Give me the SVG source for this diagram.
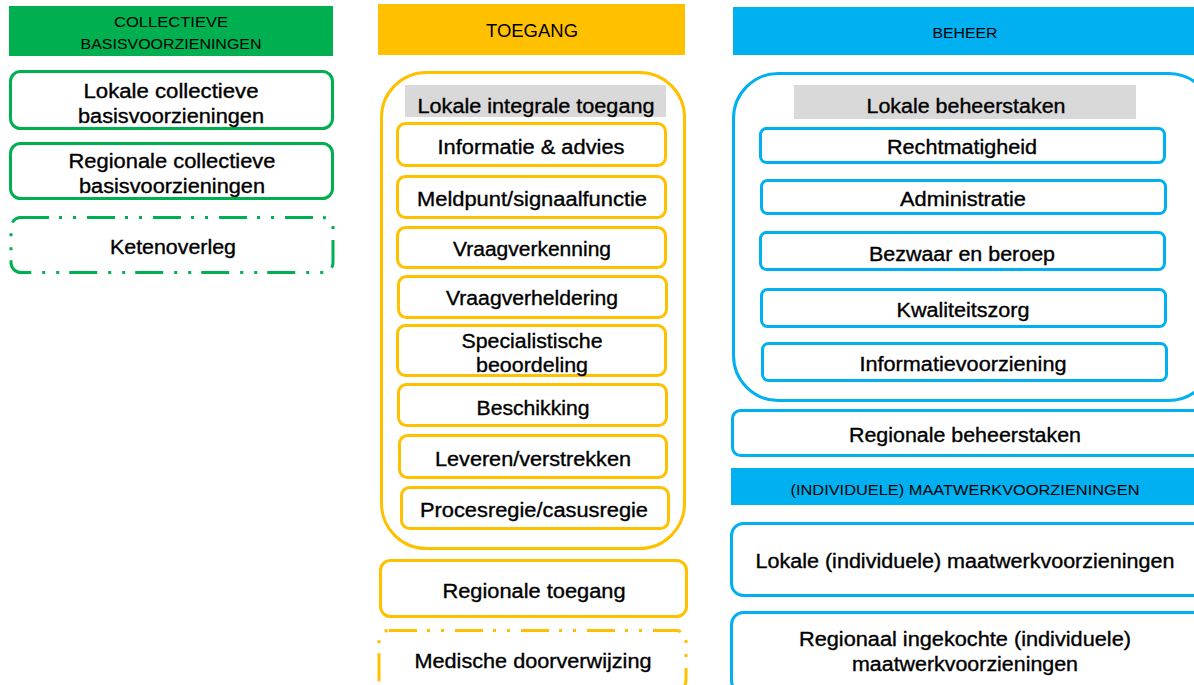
<svg xmlns="http://www.w3.org/2000/svg" width="1194" height="685" viewBox="0 0 1194 685">
<style>
text{font-family:"Liberation Sans",Arial,sans-serif;fill:#000;text-anchor:middle}
.t{font-size:20px;stroke:#000;stroke-width:0.35}
.h{font-size:15px}
.g{fill:#fff;stroke:#00B050;stroke-width:3}
.y{fill:#fff;stroke:#FFC000;stroke-width:3}
.c{fill:#fff;stroke:#00B0F0;stroke-width:3}
.d{stroke-dasharray:28 10 3 11 3 11}
</style>
<rect width="1194" height="685" fill="#fff"/>
<g id="col-collectief">
<g id="hdr-collectief"><rect x="9" y="6" width="324" height="50" fill="#00B050"/>
<text class="h" x="171" y="27" textLength="114" lengthAdjust="spacingAndGlyphs">COLLECTIEVE</text>
<text class="h" x="171" y="49" textLength="181" lengthAdjust="spacingAndGlyphs">BASISVOORZIENINGEN</text></g>
<g id="lokale-collectief"><rect class="g" x="10.5" y="71.5" width="322" height="57" rx="10"/>
<text class="t" x="171" y="98" textLength="175" lengthAdjust="spacingAndGlyphs">Lokale collectieve</text>
<text class="t" x="171" y="123" textLength="186" lengthAdjust="spacingAndGlyphs">basisvoorzieningen</text></g>
<g id="regionale-collectief"><rect class="g" x="10.5" y="143.5" width="322" height="55" rx="10"/>
<text class="t" x="172" y="168" textLength="207" lengthAdjust="spacingAndGlyphs">Regionale collectieve</text>
<text class="t" x="172" y="193" textLength="186" lengthAdjust="spacingAndGlyphs">basisvoorzieningen</text></g>
<g id="ketenoverleg"><rect class="g d" x="11" y="217.5" width="322" height="55" rx="10"/>
<text class="t" x="173" y="254" textLength="126" lengthAdjust="spacingAndGlyphs">Ketenoverleg</text></g>
</g>
<g id="col-toegang">
<g id="hdr-toegang"><rect x="378" y="4" width="307" height="51" fill="#FFC000"/>
<text x="532" y="37" style="font-size:18px" textLength="92" lengthAdjust="spacingAndGlyphs">TOEGANG</text></g>
<g id="lokale-toegang"><rect class="y" x="381.5" y="72.5" width="303" height="476" rx="45"/>
<rect x="405" y="85" width="261" height="32" fill="#D9D9D9"/>
<text class="t" x="536" y="113" textLength="237" lengthAdjust="spacingAndGlyphs">Lokale integrale toegang</text></g>
<g id="informatie"><rect class="y" x="397.5" y="123.5" width="268" height="42" rx="8"/>
<text class="t" x="531" y="154" textLength="187" lengthAdjust="spacingAndGlyphs">Informatie &amp; advies</text></g>
<g id="meldpunt"><rect class="y" x="397.5" y="176.5" width="268" height="41" rx="8"/>
<text class="t" x="532" y="206" textLength="230" lengthAdjust="spacingAndGlyphs">Meldpunt/signaalfunctie</text></g>
<g id="vraagverkenning"><rect class="y" x="397.5" y="227.5" width="268" height="40" rx="8"/>
<text class="t" x="532" y="256" textLength="158" lengthAdjust="spacingAndGlyphs">Vraagverkenning</text></g>
<g id="vraagverheldering"><rect class="y" x="398.5" y="276.5" width="268" height="41" rx="8"/>
<text class="t" x="532" y="305" textLength="172" lengthAdjust="spacingAndGlyphs">Vraagverheldering</text></g>
<g id="specialistische"><rect class="y" x="397.5" y="325.5" width="268" height="50" rx="8"/>
<text class="t" x="532" y="348" textLength="141" lengthAdjust="spacingAndGlyphs">Specialistische</text>
<text class="t" x="532" y="372" textLength="112" lengthAdjust="spacingAndGlyphs">beoordeling</text></g>
<g id="beschikking"><rect class="y" x="398.5" y="384.5" width="268" height="41" rx="8"/>
<text class="t" x="533" y="415" textLength="113" lengthAdjust="spacingAndGlyphs">Beschikking</text></g>
<g id="leveren"><rect class="y" x="399.5" y="435.5" width="267" height="42" rx="8"/>
<text class="t" x="533" y="466" textLength="196" lengthAdjust="spacingAndGlyphs">Leveren/verstrekken</text></g>
<g id="procesregie"><rect class="y" x="401.5" y="487.5" width="267" height="41" rx="8"/>
<text class="t" x="534" y="517" textLength="228" lengthAdjust="spacingAndGlyphs">Procesregie/casusregie</text></g>
<g id="regionale-toegang"><rect class="y" x="380.5" y="560.5" width="306" height="56" rx="10"/>
<text class="t" x="534" y="598" textLength="183" lengthAdjust="spacingAndGlyphs">Regionale toegang</text></g>
<g id="medische"><rect class="y d" x="379" y="630.5" width="307" height="60" rx="10"/>
<text class="t" x="533" y="668" textLength="237" lengthAdjust="spacingAndGlyphs">Medische doorverwijzing</text></g>
</g>
<g id="col-beheer">
<g id="hdr-beheer"><rect x="733" y="7" width="461" height="48" fill="#00B0F0"/>
<text class="h" x="965" y="38" textLength="65" lengthAdjust="spacingAndGlyphs">BEHEER</text></g>
<g id="lokale-beheer"><rect class="c" x="733.5" y="73.5" width="480" height="327" rx="45"/>
<rect x="794" y="85" width="342" height="34" fill="#D9D9D9"/>
<text class="t" x="966" y="113" textLength="199" lengthAdjust="spacingAndGlyphs">Lokale beheerstaken</text></g>
<g id="rechtmatigheid"><rect class="c" x="760.5" y="128.5" width="404" height="34" rx="6"/>
<text class="t" x="962" y="154" textLength="150" lengthAdjust="spacingAndGlyphs">Rechtmatigheid</text></g>
<g id="administratie"><rect class="c" x="761.5" y="180.5" width="404" height="33" rx="6"/>
<text class="t" x="963" y="206" textLength="126" lengthAdjust="spacingAndGlyphs">Administratie</text></g>
<g id="bezwaar"><rect class="c" x="760.5" y="232.5" width="404" height="37" rx="6"/>
<text class="t" x="962" y="261" textLength="186" lengthAdjust="spacingAndGlyphs">Bezwaar en beroep</text></g>
<g id="kwaliteitszorg"><rect class="c" x="761.5" y="289.5" width="404" height="37" rx="6"/>
<text class="t" x="963" y="317" textLength="133" lengthAdjust="spacingAndGlyphs">Kwaliteitszorg</text></g>
<g id="informatievoorziening"><rect class="c" x="762.5" y="343.5" width="404" height="37" rx="6"/>
<text class="t" x="963" y="371" textLength="207" lengthAdjust="spacingAndGlyphs">Informatievoorziening</text></g>
<g id="regionale-beheer"><rect class="c" x="732.5" y="410.5" width="480" height="45" rx="8"/>
<text class="t" x="965" y="442" textLength="232" lengthAdjust="spacingAndGlyphs">Regionale beheerstaken</text></g>
<g id="hdr-maatwerk"><rect x="731" y="468" width="463" height="37" fill="#00B0F0"/>
<text class="h" x="965" y="495" textLength="349" lengthAdjust="spacingAndGlyphs">(INDIVIDUELE)  MAATWERKVOORZIENINGEN</text></g>
<g id="lokale-maatwerk"><rect class="c" x="731.5" y="523.5" width="480" height="72" rx="12"/>
<text class="t" x="965" y="568" textLength="419" lengthAdjust="spacingAndGlyphs">Lokale (individuele) maatwerkvoorzieningen</text></g>
<g id="regionaal-maatwerk"><rect class="c" x="731.5" y="612.5" width="480" height="80" rx="12"/>
<text class="t" x="965" y="646" textLength="332" lengthAdjust="spacingAndGlyphs">Regionaal ingekochte (individuele)</text>
<text class="t" x="965" y="671" textLength="226" lengthAdjust="spacingAndGlyphs">maatwerkvoorzieningen</text></g>
</g>
</svg>
